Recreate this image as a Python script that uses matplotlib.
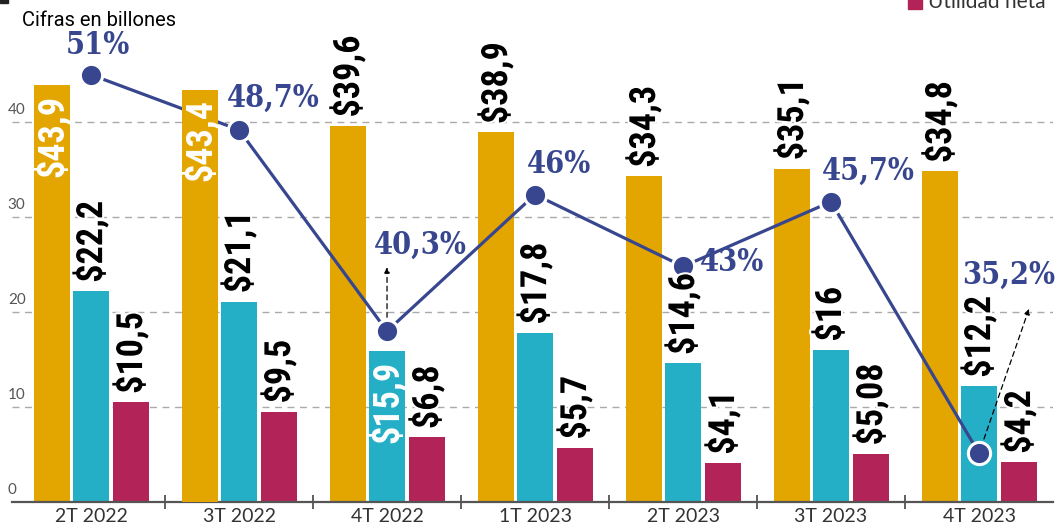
import numpy as np
import matplotlib
matplotlib.use("Agg")
import matplotlib.pyplot as plt
import matplotlib.patheffects as pe
from matplotlib.patches import Rectangle
from matplotlib.transforms import blended_transform_factory

# data
quarters = ['2T 2022', '3T 2022', '4T 2022', '1T 2023', '2T 2023', '3T 2023', '4T 2023']
gold_vals = [43.9, 43.4, 39.6, 38.9, 34.3, 35.1, 34.8]
blue_vals = [22.2, 21.1, 15.9, 17.8, 14.6, 16, 12.2]
red_vals = [10.5, 9.5, 6.8, 5.7, 4.1, 5.08, 4.2]
gold_labels = ['$43,9', '$43,4', '$39,6', '$38,9', '$34,3', '$35,1', '$34,8']
blue_labels = ['$22,2', '$21,1', '$15,9', '$17,8', '$14,6', '$16', '$12,2']
red_labels = ['$10,5', '$9,5', '$6,8', '$5,7', '$4,1', '$5,08', '$4,2']
margin_vals = [51, 48.7, 40.3, 46, 43, 45.7, 35.2]
margin_labels = ['51%', '48,7%', '40,3%', '46%', '43%', '45,7%', '35,2%']
yticks = [0, 10, 20, 30, 40]

GOLD = '#E3A600'
BLUE = '#25AFC6'
RED = '#B22457'
NAVY = '#37468F'

W, H = 1058, 528
fig = plt.figure(figsize=(W / 100, H / 100), dpi=100)
ax = fig.add_axes([12 / W, 26 / H, 1041 / W, 502 / H])
# second scale for the margin line
ax2 = ax.twinx()
ax2.axis('off')

x = np.arange(len(quarters))
bw = 0.243
gold_bars = ax.bar(x - 0.264, gold_vals, bw, color=GOLD)
blue_bars = ax.bar(x, blue_vals, bw, color=BLUE)
red_bars = ax.bar(x + 0.27, red_vals, bw, color=RED)
# the 3T 2022 bar hides the line where its label sits
gold_bars[1].set_zorder(6)

# line drawn in ax (so bars can overlap it) but on ax2's scale
ax.plot(x, margin_vals, transform=ax2.transData, color=NAVY, lw=2.3, marker='o',
        markersize=16, markerfacecolor=NAVY, markeredgecolor='white',
        markeredgewidth=2.2, zorder=5)

ax.set_xlim(-0.534, 6.5)
ax.set_ylim(0, 52.84)
ax2.set_ylim(33.17, 54.12)

for s in ['top', 'left', 'right']:
    ax.spines[s].set_visible(False)
ax.spines['bottom'].set_color('#555555')
ax.spines['bottom'].set_linewidth(1.6)

for v in yticks[1:]:
    ax.axhline(v, color='#aaaaaa', lw=1, ls=(0, (5, 4)), zorder=0)

ax.set_yticks([])
ax.set_xticks(x)
ax.set_xticklabels(quarters, fontsize=14, family='Lato', color='#333333')
ax.tick_params(axis='x', which='major', length=0, pad=4)
ax.set_xticks(x[:-1] + 0.5, minor=True)
ax.tick_params(axis='x', which='minor', length=10, direction='inout', color='#444444', width=1.2)

tr = blended_transform_factory(ax.transAxes, ax.transData)
for v in yticks:
    ax.text(-0.004, v + 0.55, str(v), transform=tr, ha='left', va='bottom',
            fontsize=11, family='Lato', color='#555555')

# bar value labels (drawn over the line)
lab_font = dict(family='Roboto Condensed', fontweight='bold', fontsize=26,
                rotation=90, ha='center', zorder=7)
stroke = [pe.withStroke(linewidth=3, foreground='white')]
inside = {('g', 0), ('g', 1), ('b', 2)}
for key, bars, vals, labels in [('g', gold_bars, gold_vals, gold_labels),
                                ('b', blue_bars, blue_vals, blue_labels),
                                ('r', red_bars, red_vals, red_labels)]:
    for i, (b, v, t) in enumerate(zip(bars, vals, labels)):
        cx = b.get_x() + b.get_width() / 2
        if (key, i) in inside:
            ax2.annotate(t, (cx, v), xycoords=ax.transData, xytext=(0, -7),
                         textcoords='offset points', va='top', color='white', **lab_font)
        else:
            ax2.annotate(t, (cx, v), xycoords=ax.transData, xytext=(0, 6),
                         textcoords='offset points', va='bottom', color='black',
                         path_effects=stroke, **lab_font)

pct_offsets = [(5, 21), (25, 23), (24, 62), (17, 22), (35, 3), (27, 22), (21, 128)]
pct_font = dict(family='DejaVu Serif', fontstretch='condensed', fontweight='bold',
                fontsize=22, color=NAVY, ha='center', va='center')
for xi, v, t, off in zip(x, margin_vals, margin_labels, pct_offsets):
    ax2.annotate(t, (xi, v), xytext=off, textcoords='offset points', zorder=8, **pct_font)

# dashed pointer arrows
ax2.annotate('', xy=(2, margin_vals[2]), xytext=(0, 46), textcoords='offset points',
             arrowprops=dict(arrowstyle='<|-', color='black', lw=0.9, ls=(0, (4, 3)),
                             shrinkA=0, shrinkB=10, mutation_scale=8))
ax2.annotate('', xy=(6, margin_vals[6]), xytext=(36, 104), textcoords='offset points',
             arrowprops=dict(arrowstyle='<|-', color='black', lw=0.9, ls=(0, (4, 3)),
                             shrinkA=0, shrinkB=10, mutation_scale=8))

# header text and cropped legend
fig.text(22 / W, 1 - 26 / H, 'Cifras en billones', fontsize=14.5, family='Roboto', color='black')
fig.patches.append(Rectangle((908 / W, 1 - 9 / H), 14 / W, 14 / H, transform=fig.transFigure,
                             color=RED, clip_on=False))
fig.text(928 / W, 1 - 8 / H, 'Utilidad neta', fontsize=15, family='Lato',
         color='#333333', va='baseline')
fig.patches.append(Rectangle((0, 1 - 3 / H), 8 / W, 5 / H, transform=fig.transFigure,
                             color='#222222', clip_on=False))

fig.savefig('out.png', dpi=100)
